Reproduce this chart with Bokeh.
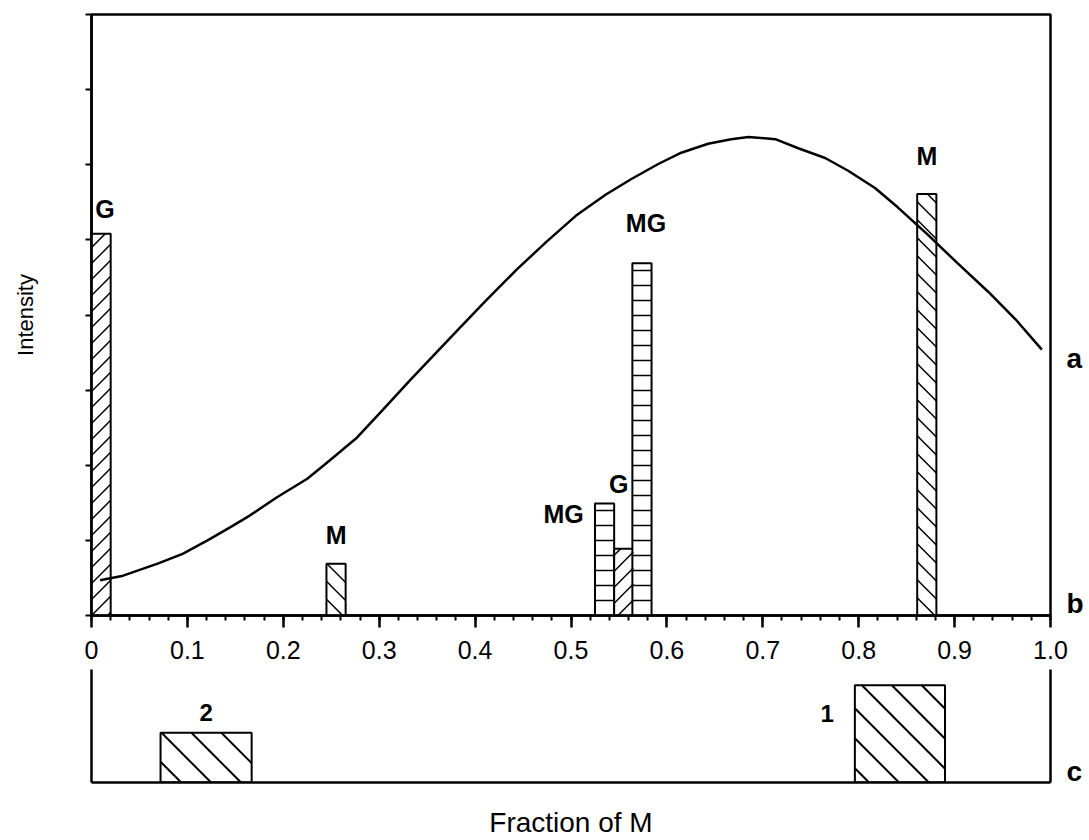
import math
from bokeh.plotting import figure
from bokeh.layouts import column
from bokeh.models import FixedTicker, ColumnDataSource, LinearAxis, Range1d
from bokeh.core.properties import value
from bokeh.embed import file_html
from bokeh.resources import INLINE

# ---------------- data ----------------
curve_x = [0.009, 0.033, 0.069, 0.095, 0.121, 0.144, 0.165, 0.193, 0.225, 0.248,
           0.277, 0.304, 0.332, 0.358, 0.384, 0.412, 0.443, 0.474, 0.505, 0.536,
           0.563, 0.591, 0.615, 0.643, 0.667, 0.685, 0.713, 0.737, 0.765, 0.789,
           0.817, 0.841, 0.872, 0.903, 0.935, 0.963, 0.991]
curve_y = [0.47, 0.53, 0.69, 0.82, 1.00, 1.17, 1.33, 1.57, 1.82, 2.06,
           2.37, 2.74, 3.13, 3.48, 3.83, 4.20, 4.60, 4.97, 5.32, 5.60,
           5.81, 6.01, 6.16, 6.28, 6.34, 6.37, 6.34, 6.22, 6.09, 5.92,
           5.69, 5.43, 5.07, 4.69, 4.31, 3.95, 3.54]

bar_x = [0.010, 0.255, 0.535, 0.555, 0.574, 0.871]
bar_height = [5.08, 0.69, 1.49, 0.89, 4.69, 5.61]
bar_species = ["G", "M", "MG", "G", "MG", "M"]

x_ticks = [0.0, 0.1, 0.2, 0.3, 0.4, 0.5, 0.6, 0.7, 0.8, 0.9, 1.0]
x_tick_labels = ["0", "0.1", "0.2", "0.3", "0.4", "0.5", "0.6", "0.7", "0.8", "0.9", "1.0"]
y_ticks = [0, 1, 2, 3, 4, 5, 6, 7, 8]

range_left = [0.072, 0.796]
range_right = [0.167, 0.890]
range_height = [0.44, 0.86]
range_names = ["2", "1"]

panel_names = ["a", "b", "c"]

# ---------------- styles / layout ----------------
FONT = "Liberation Sans"
BAR_W = 0.02
FRAME_W = 962          # px of the x frame (both panels)
MAIN_FRAME_H = 601     # px of main frame for y 0..8
BOT_FRAME_H = 113      # px of bottom frame for y 0..1
hatch_kind = {"G": "/", "M": "\\", "MG": "-"}
hatch_step = {"G": 16, "M": 18, "MG": 15}     # px between hatch lines
label_dx = [4, 0, -41, -5, 4, 0]
label_dy = [-25, -29, 10, -65, -40, -38]
panel_pos_main = [3.42, 0.16]
panel_pos_bottom = [0.1]
W = 1086


def hatch_lines(x0, x1, y0, y1, sx, sy, step, kind):
    """45-degree / horizontal hatch segments inside a data rectangle,
    spaced `step` screen pixels apart (sx, sy = px per data unit)."""
    X0, X1, Y0, Y1 = x0 * sx, x1 * sx, y0 * sy, y1 * sy
    out = []
    if kind == "-":
        c = Y0 + step
        while c < Y1 - 2:
            out.append((X0, c, X1, c))
            c += step
    elif kind == "/":      # y = x + c
        c = math.ceil((Y0 - X1) / step) * step
        while c <= Y1 - X0:
            xs, xe = max(X0, Y0 - c), min(X1, Y1 - c)
            if xe - xs > 0.5:
                out.append((xs, xs + c, xe, xe + c))
            c += step
    else:                  # "\" : x + y = c
        c = math.ceil((X0 + Y0) / step) * step
        while c <= X1 + Y1:
            xs, xe = max(X0, c - Y1), min(X1, c - Y0)
            if xe - xs > 0.5:
                out.append((xs, c - xs, xe, c - xe))
            c += step
    return [(a / sx, b / sy, c_ / sx, d / sy) for a, b, c_, d in out]


# ---------------- main panel ----------------
p = figure(width=W, height=669, x_range=Range1d(0, 1), y_range=Range1d(0, 8),
           output_backend="svg", toolbar_location=None,
           min_border_left=91, min_border_right=W - 91 - FRAME_W, min_border_top=14,
           min_border_bottom=54)
p.grid.visible = False
p.outline_line_color = "black"
p.outline_line_width = 2.5
p.background_fill_color = "white"
p.border_fill_color = "white"

minor = [round(i * 0.02, 2) for i in range(51)]
xa = p.xaxis[0]
xa.ticker = FixedTicker(ticks=x_ticks, minor_ticks=minor)
xa.major_label_overrides = {t: l for t, l in zip(x_ticks, x_tick_labels)}
xa.axis_line_width = 2.5
xa.major_tick_out = 12
xa.major_tick_in = 0
xa.minor_tick_out = 5
xa.minor_tick_in = 0
xa.major_tick_line_width = 2.5
xa.minor_tick_line_width = 2
xa.major_label_text_font = FONT
xa.major_label_text_font_size = "25px"
xa.major_label_text_color = "black"
xa.major_label_standoff = 13

ya = p.yaxis[0]
ya.ticker = FixedTicker(ticks=y_ticks, minor_ticks=[])
ya.major_label_overrides = {t: "" for t in y_ticks}
ya.axis_line_width = 2.5
ya.major_tick_out = 6
ya.major_tick_in = 0
ya.major_tick_line_width = 2
ya.axis_label = "Intensity"
ya.axis_label_text_font = FONT
ya.axis_label_text_font_size = "22px"
ya.axis_label_text_font_style = "normal"
ya.axis_label_text_color = "black"
ya.axis_label_standoff = 48

ra = LinearAxis(ticker=FixedTicker(ticks=panel_pos_main, minor_ticks=[]),
                major_label_overrides={t: n for t, n in zip(panel_pos_main, panel_names[:2])},
                axis_line_color=None, major_tick_line_color=None,
                major_tick_out=0, major_tick_in=0, major_label_standoff=16,
                major_label_text_font=FONT, major_label_text_font_style="bold",
                major_label_text_font_size="28px", major_label_text_color="black")
p.add_layout(ra, "right")

bars = ColumnDataSource(dict(x=bar_x, top=bar_height, species=bar_species,
                             dx=label_dx, dy=label_dy))
p.vbar(x="x", top="top", bottom=0, width=BAR_W, source=bars,
       fill_color="white", line_color="black", line_width=2)

sx, sy = FRAME_W / 1.0, MAIN_FRAME_H / 8.0
segs = []
for bx, bh, sp in zip(bar_x, bar_height, bar_species):
    segs += hatch_lines(bx - BAR_W / 2, bx + BAR_W / 2, 0, bh, sx, sy,
                        hatch_step[sp], hatch_kind[sp])
p.segment(x0=[s[0] for s in segs], y0=[s[1] for s in segs],
          x1=[s[2] for s in segs], y1=[s[3] for s in segs],
          line_color="black", line_width=1.5)

p.line(curve_x, curve_y, line_color="black", line_width=2.5)
p.text(x="x", y="top", text="species", x_offset="dx", y_offset="dy", source=bars,
       text_align="center", text_baseline="middle", text_font=value(FONT),
       text_font_style="bold", text_font_size="25px", text_color="black")

# ---------------- bottom panel ----------------
q = figure(width=W, height=171, x_range=Range1d(0, 1), y_range=Range1d(0, 1),
           output_backend="svg", toolbar_location=None,
           min_border_left=91, min_border_right=W - 91 - FRAME_W, min_border_top=0,
           min_border_bottom=58)
q.grid.visible = False
q.outline_line_color = None
q.background_fill_color = "white"
q.border_fill_color = "white"

qx = q.xaxis[0]
qx.ticker = FixedTicker(ticks=[], minor_ticks=[])
qx.axis_line_width = 2.5
qx.major_tick_out = 0
qx.axis_label = "Fraction of M"
qx.axis_label_text_font = FONT
qx.axis_label_text_font_size = "28px"
qx.axis_label_text_font_style = "normal"
qx.axis_label_text_color = "black"
qx.axis_label_standoff = 24

qy = q.yaxis[0]
qy.ticker = FixedTicker(ticks=[], minor_ticks=[])
qy.axis_line_width = 2.5
qy.major_tick_out = 0

rc = LinearAxis(ticker=FixedTicker(ticks=panel_pos_bottom, minor_ticks=[]),
                major_label_overrides={t: n for t, n in zip(panel_pos_bottom, panel_names[2:])},
                axis_line_width=2.5, major_tick_line_color=None,
                major_tick_out=0, major_tick_in=0, major_label_standoff=16,
                major_label_text_font=FONT, major_label_text_font_style="bold",
                major_label_text_font_size="28px", major_label_text_color="black")
q.add_layout(rc, "right")

q.quad(left=range_left, right=range_right, top=range_height, bottom=0,
       fill_color="white", line_color="black", line_width=2)
bsx, bsy = FRAME_W / 1.0, BOT_FRAME_H / 1.0
bsegs = []
for l, r, h in zip(range_left, range_right, range_height):
    bsegs += hatch_lines(l, r, 0, h, bsx, bsy, 30, "\\")
q.segment(x0=[s[0] for s in bsegs], y0=[s[1] for s in bsegs],
          x1=[s[2] for s in bsegs], y1=[s[3] for s in bsegs],
          line_color="black", line_width=2)

cx = [(a + b) / 2 for a, b in zip(range_left, range_right)]
q.text(x=[cx[0]], y=[range_height[0]], text=[range_names[0]],
       y_offset=-20, text_align="center", text_baseline="middle",
       text_font=value(FONT), text_font_style="bold", text_font_size="24px", text_color="black")
q.text(x=[range_left[1]], y=[range_height[1]], text=[range_names[1]],
       x_offset=-21, y_offset=28, text_align="right", text_baseline="middle",
       text_font=value(FONT), text_font_style="bold", text_font_size="24px", text_color="black")

layout = column(p, q, spacing=0)
open("out.html", "w").write(file_html(layout, INLINE))
